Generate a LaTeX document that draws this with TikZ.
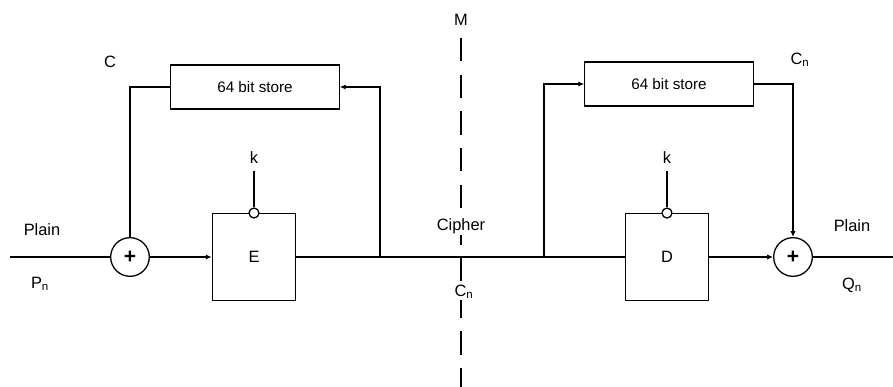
\documentclass[tikz,border=0pt]{standalone}
\usepackage{fontspec}
\setmainfont{Liberation Sans}
\usetikzlibrary{arrows.meta,positioning,calc}
\tikzset{
  block/.style={rectangle, draw, line width=1.1pt, minimum width=25mm, minimum height=26mm, font=\fontsize{14}{16}\selectfont},
  store/.style={rectangle, draw, line width=1.1pt, minimum width=50.5mm, minimum height=13.2mm, font=\fontsize{13}{15}\selectfont},
  xor/.style={circle, draw, line width=1.1pt, minimum size=11.6mm, inner sep=0pt, font=\fontsize{18}{18}\selectfont\bfseries},
  inv/.style={circle, draw, fill=white, line width=1.1pt, minimum size=3mm, inner sep=0pt},
  lbl/.style={font=\fontsize{14}{16}\selectfont},
  arrow/.style={-{Latex[length=5pt,width=4.5pt]}, line width=1.1pt},
  wire/.style={line width=1.1pt},
}
\begin{document}
\begin{tikzpicture}[x=0.3mm, y=-0.3mm]
\useasboundingbox (0,0) rectangle (893,387);

% Line M (behind everything)
\coordinate (mTop) at (461,38);
\coordinate (mBot) at (461,387);
\draw[wire, dash pattern=on 7mm off 4mm] (mTop) -- (mBot);

% Encipher side
\node[xor] (xl) at (130,257) {+};
\node[block] (E) at (254,257) {E};
\node[store] (sl) at (255,87) {64 bit store};
\node[inv] (invE) at (E.north) {};
\coordinate (kEtop) at ($(invE.north)+(0,-36)$);
\node[lbl, above=1mm of kEtop] (kE) {k};

% Decipher side
\node[block] (D) at (667,257) {D};
\node[store] (sr) at (669,84) {64 bit store};
\node[inv] (invD) at (D.north) {};
\coordinate (kDtop) at ($(invD.north)+(0,-36)$);
\node[lbl, above=1mm of kDtop] (kD) {k};
\node[xor] (xr) at (793,257) {+};

% Line ends and taps
\coordinate (inL) at (10,257);
\coordinate (outR) at (893,257);
\coordinate (tapL) at (380,257);
\coordinate (tapR) at (544,257);

% Labels
\node[lbl] (plainL) at (42,230) {Plain};
\node[lbl] (pn) at (40,284) {P\textsubscript{n}};
\node[lbl] (cL) at (110,62) {C};
\node[lbl, fill=white] (mLbl) at (461,20) {M};
\node[lbl, fill=white, inner sep=1pt] (cipher) at (461,226) {Cipher};
\node[lbl, fill=white, inner sep=1pt] (cn) at (464,292) {C\textsubscript{n}};
\node[lbl] (cR) at (800,60) {C\textsubscript{n}};
\node[lbl] (plainR) at (852,226) {Plain};
\node[lbl] (qn) at (852,285) {Q\textsubscript{n}};

% Connections
\draw[wire] (inL) -- (xl);
\draw[arrow] (xl) -- (E);
\draw[wire] (E) -- (D);
\draw[arrow] (tapL) |- (sl.east);
\draw[wire] (sl.west) -| (xl.north);
\draw[arrow] (tapR) |- (sr.west);
\draw[arrow] (sr.east) -| (xr.north);
\draw[arrow] (D) -- (xr);
\draw[wire] (xr) -- (outR);
\draw[wire] (kEtop) -- (invE.north);
\draw[wire] (kDtop) -- (invD.north);

\end{tikzpicture}
\end{document}
